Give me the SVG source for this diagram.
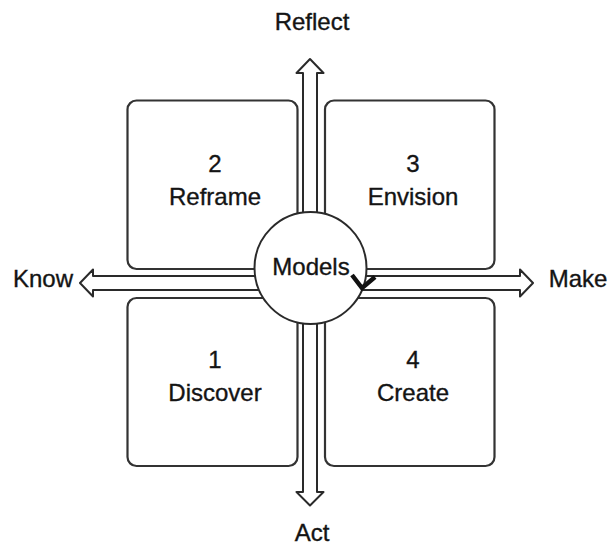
<svg xmlns="http://www.w3.org/2000/svg" width="610" height="546" viewBox="0 0 610 546">
  <style>
    .box { fill: #ffffff; stroke: #333333; stroke-width: 2.2; }
    .arrow { fill: #ffffff; stroke: #2a2a2a; stroke-width: 2; stroke-linejoin: round; }
    .hub { fill: #ffffff; stroke: #2a2a2a; stroke-width: 2; }
    .lbl { font-family: "Liberation Sans", Arial, sans-serif; font-size: 24px; fill: #141414; stroke: #141414; stroke-width: 0.35; text-anchor: middle; }
  </style>
  <rect width="610" height="546" fill="#ffffff"/>

  <!-- quadrants -->
  <g id="reframe">
    <rect class="box" x="127.5" y="100.5" width="170" height="168.5" rx="9"/>
    <text class="lbl" x="215" y="172">2</text>
    <text class="lbl" x="215" y="205">Reframe</text>
  </g>
  <g id="envision">
    <rect class="box" x="325" y="100.5" width="169.5" height="168.5" rx="9"/>
    <text class="lbl" x="413" y="172">3</text>
    <text class="lbl" x="413" y="205">Envision</text>
  </g>
  <g id="discover">
    <rect class="box" x="127.5" y="298" width="170" height="168" rx="9"/>
    <text class="lbl" x="215" y="368">1</text>
    <text class="lbl" x="215" y="401">Discover</text>
  </g>
  <g id="create">
    <rect class="box" x="325" y="298" width="169.5" height="168" rx="9"/>
    <text class="lbl" x="413" y="368">4</text>
    <text class="lbl" x="413" y="401">Create</text>
  </g>

  <!-- axes -->
  <g id="connectors">
    <polygon class="arrow" points="310,59 323.5,73 317,73 317,492 323.5,492 310,505.5 296.5,492 303,492 303,73 296.5,73"/>
    <polygon class="arrow" points="80,283 93,269.5 93,276 520,276 520,269.5 533,283 520,296.5 520,290 93,290 93,296.5"/>
  </g>

  <!-- axis labels -->
  <g id="axis-labels">
    <text class="lbl" x="312" y="30">Reflect</text>
    <text class="lbl" x="312" y="541">Act</text>
    <text class="lbl" x="43" y="287">Know</text>
    <text class="lbl" x="578" y="287">Make</text>
  </g>

  <!-- centre hub -->
  <g id="models">
    <circle class="hub" cx="310.5" cy="268" r="56"/>
    <text class="lbl" x="311" y="275">Models</text>
    <path d="M352,275 L362,288 L375,277" fill="none" stroke="#111111" stroke-width="4.5" stroke-linejoin="miter"/>
  </g>
</svg>
